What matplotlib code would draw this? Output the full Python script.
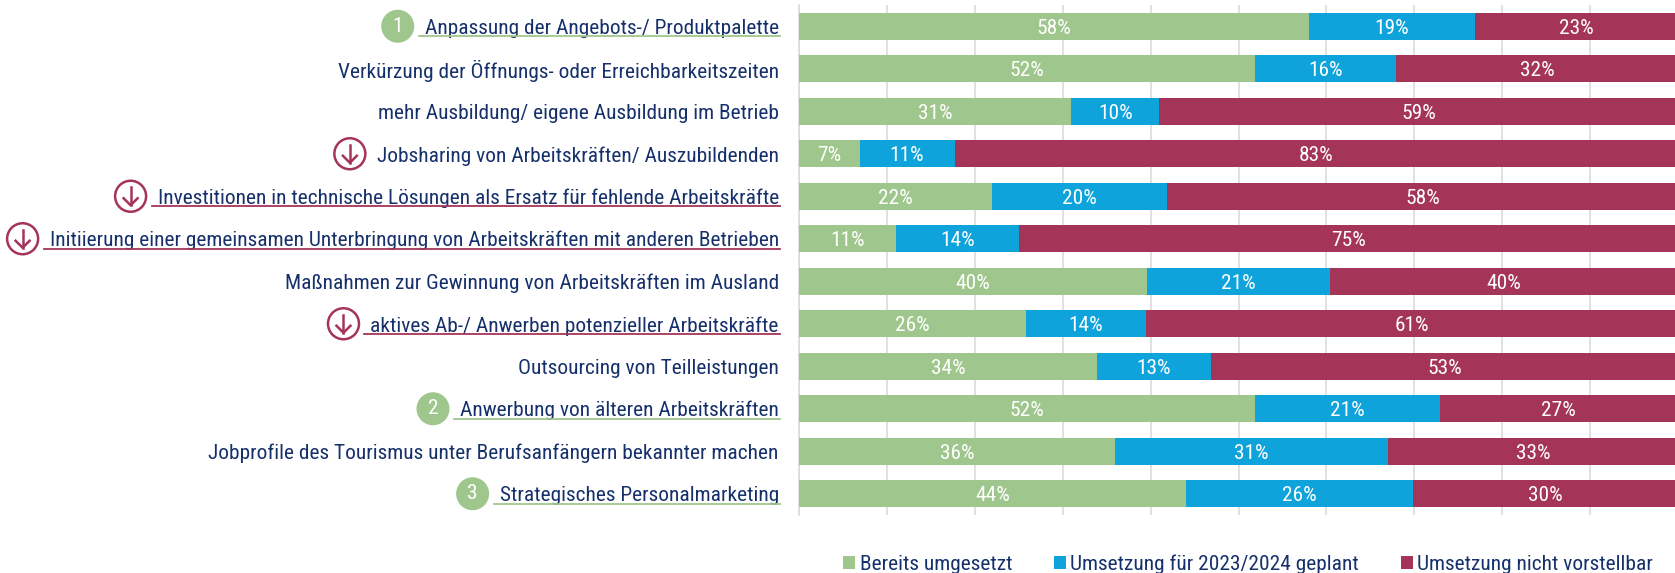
import matplotlib
matplotlib.use("Agg")
import matplotlib.pyplot as plt
from matplotlib.lines import Line2D
from matplotlib.patches import Circle
from matplotlib.transforms import IdentityTransform

plt.rcParams['font.family'] = ['Roboto Condensed', 'Roboto', 'DejaVu Sans']

kategorien = [
    "Anpassung der Angebots-/ Produktpalette",
    "Verkürzung der Öffnungs- oder Erreichbarkeitszeiten",
    "mehr Ausbildung/ eigene Ausbildung im Betrieb",
    "Jobsharing von Arbeitskräften/ Auszubildenden",
    "Investitionen in technische Lösungen als Ersatz für fehlende Arbeitskräfte",
    "Initiierung einer gemeinsamen Unterbringung von Arbeitskräften mit anderen Betrieben",
    "Maßnahmen zur Gewinnung von Arbeitskräften im Ausland",
    "aktives Ab-/ Anwerben potenzieller Arbeitskräfte",
    "Outsourcing von Teilleistungen",
    "Anwerbung von älteren Arbeitskräften",
    "Jobprofile des Tourismus unter Berufsanfängern bekannter machen",
    "Strategisches Personalmarketing",
]
umgesetzt = [58.0, 51.9, 31.0, 6.9, 22.0, 11.0, 39.6, 25.8, 33.9, 51.9, 36.0, 44.0]
geplant = [18.9, 16.0, 10.0, 10.8, 19.9, 14.0, 20.8, 13.7, 13.0, 21.0, 31.0, 25.9]
nicht = [23.1, 32.1, 59.0, 82.3, 58.1, 75.0, 39.6, 60.5, 53.1, 27.1, 33.0, 30.1]
label_umgesetzt = ["58%", "52%", "31%", "7%", "22%", "11%", "40%", "26%", "34%", "52%", "36%", "44%"]
label_geplant = ["19%", "16%", "10%", "11%", "20%", "14%", "21%", "14%", "13%", "21%", "31%", "26%"]
label_nicht = ["23%", "32%", "59%", "83%", "58%", "75%", "40%", "61%", "53%", "27%", "33%", "30%"]
serien_namen = ["Bereits umgesetzt", "Umsetzung für 2023/2024 geplant", "Umsetzung nicht vorstellbar"]

# Markierungen links neben den Beschriftungen: Zeile -> Rang bzw. Pfeil
rang = {0: "1", 9: "2", 11: "3"}
pfeil = [3, 4, 5, 7]
unterstrichen = [0, 4, 5, 7, 9, 11]

gruen = "#9fc68c"
blau = "#0ea3db"
rot = "#a53558"
navy = "#16306b"
grau = "#d9d9d9"
schrift = 15.43

B, H = 1675, 573
fig = plt.figure(figsize=(B / 100, H / 100), dpi=100)
ax = fig.add_axes([799 / B, 1 - 515 / H, (B - 799) / B, 510 / H])

y = list(range(len(kategorien)))
links = [0] * len(y)
for werte, farbe, texte, name in [(umgesetzt, gruen, label_umgesetzt, serien_namen[0]),
                                  (geplant, blau, label_geplant, serien_namen[1]),
                                  (nicht, rot, label_nicht, serien_namen[2])]:
    ax.barh(y, werte, left=links, height=0.625, color=farbe, label=name, zorder=3)
    for i in y:
        ax.text(links[i] + werte[i] / 2, i, texte[i], color="white", fontsize=schrift,
                ha="center", va="center_baseline", zorder=4)
    links = [a + b for a, b in zip(links, werte)]

ax.set_xlim(0, (B - 799) / 8.79)
ax.set_ylim(11.5, -0.5)
ax.set_xticks(range(0, 100, 10))
ax.set_xticklabels([])
ax.grid(axis="x", color=grau, linewidth=1.1, zorder=0)
ax.set_axisbelow(True)
ax.set_yticks(y)
ax.set_yticklabels(kategorien, fontsize=schrift, color=navy)
ax.tick_params(length=0, pad=14.5)
for s in ["top", "right", "bottom"]:
    ax.spines[s].set_visible(False)
ax.spines["left"].set_color(grau)
ax.spines["left"].set_linewidth(1.1)

fig.legend(loc="lower left", bbox_to_anchor=(824 / B, -0.035), ncol=3, frameon=False,
           fontsize=schrift, labelcolor=navy, handlelength=0.56, handleheight=0.56,
           handletextpad=0.2, columnspacing=1.95)

# Kreise und Unterstreichungen haengen an der gemessenen Textbreite
fig.canvas.draw()
px = IdentityTransform()
for i, t in enumerate(ax.get_yticklabels()):
    box = t.get_window_extent()
    mitte = ax.transData.transform((0, i))[1]
    if i in unterstrichen:
        farbe = gruen if i in rang else rot
        fig.add_artist(Line2D([box.x0 - 6, box.x1 + 1], [mitte - 10, mitte - 10], color=farbe,
                              linewidth=1.3, transform=px))
    cx = box.x0 - 27
    if i in rang:
        fig.add_artist(Circle((cx, mitte), 16.5, facecolor=gruen, edgecolor="none", transform=px))
        fig.text(cx, mitte, rang[i], color="white", fontsize=schrift, ha="center", va="center",
                 transform=px)
    if i in pfeil:
        fig.add_artist(Circle((cx, mitte), 15.5, facecolor="white", edgecolor=rot, linewidth=1.8,
                              transform=px))
        fig.add_artist(Line2D([cx, cx], [mitte + 9, mitte - 9], color=rot, linewidth=1.8, transform=px))
        fig.add_artist(Line2D([cx - 7, cx, cx + 7], [mitte - 2, mitte - 9, mitte - 2], color=rot,
                              linewidth=1.8, transform=px))

fig.savefig("out.png", dpi=100)
